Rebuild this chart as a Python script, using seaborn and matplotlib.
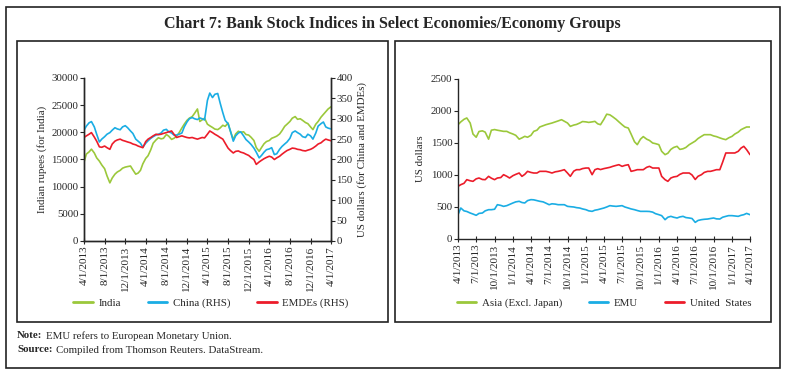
import pandas as pd
import seaborn as sns
import matplotlib.pyplot as plt
import matplotlib.dates as mdates
from matplotlib.lines import Line2D
from matplotlib.patches import Rectangle

# semi-monthly readings, 4/1/2013 .. 4/1/2017
dates = pd.date_range('2013-04-01', periods=97, freq='SMS')

india = [14500, 16000, 16400, 16900, 16200, 15300, 14700, 14000, 13300, 12000,
         10700, 11600, 12300, 12700, 13000, 13400, 13600, 13700, 13800, 13100,
         12300, 12500, 13000, 14200, 15200, 15700, 16800, 18000, 18600, 19000,
         18800, 18900, 19600, 19300, 18700, 18900, 19300, 19900, 20800, 21500,
         22200, 22600, 22900, 23500, 24300, 22000, 22300, 22600, 21500, 21200,
         20900, 20600, 20500, 20800, 21300, 21100, 21700, 20200, 18700, 19700,
         20200, 20000, 20100, 19600, 19500, 19100, 18500, 17200, 16500, 17200,
         17900, 18300, 18500, 18900, 19100, 19300, 19700, 20300, 21100, 21500,
         22000, 22600, 22900, 22400, 22500, 22200, 21800, 21600, 21000, 20500,
         21500, 22000, 22800, 23300, 23800, 24300, 24700]
china = [272, 282, 290, 293, 280, 262, 243, 250, 256, 262,
         266, 272, 278, 275, 273, 280, 283, 278, 270, 264,
         250, 245, 240, 230, 240, 246, 252, 256, 260, 262,
         265, 272, 274, 268, 265, 260, 260, 262, 265, 280,
         292, 300, 303, 300, 298, 302, 300, 297, 345, 363,
         352, 360, 362, 339, 315, 296, 288, 270, 245, 258,
         265, 268, 258, 249, 243, 237, 228, 218, 204, 210,
         218, 224, 226, 229, 212, 214, 225, 232, 238, 243,
         252, 266, 270, 266, 262, 256, 254, 262, 258, 250,
         265, 282, 288, 292, 280, 277, 275]
emdes = [254, 258, 262, 266, 255, 245, 231, 230, 233, 229,
         225, 238, 245, 248, 250, 247, 245, 243, 241, 238,
         236, 233, 231, 229, 244, 250, 254, 258, 262, 261,
         262, 264, 266, 268, 270, 262, 254, 256, 258, 256,
         254, 253, 254, 252, 250, 252, 254, 253, 262, 270,
         266, 262, 258, 254, 250, 240, 228, 222, 216, 220,
         221, 218, 216, 213, 210, 205, 200, 188, 194, 198,
         202, 205, 208, 206, 200, 204, 208, 213, 218, 222,
         225, 228, 227, 225, 224, 222, 221, 223, 225, 228,
         233, 238, 241, 246, 250, 248, 246]

asia = [1786, 1830, 1870, 1891, 1812, 1640, 1590, 1680, 1690, 1670,
        1560, 1700, 1710, 1700, 1690, 1682, 1682, 1660, 1640, 1620,
        1560, 1580, 1604, 1590, 1620, 1682, 1700, 1750, 1770, 1786,
        1800, 1812, 1830, 1845, 1864, 1840, 1812, 1760, 1780, 1790,
        1812, 1835, 1830, 1822, 1830, 1838, 1800, 1786, 1870, 1950,
        1940, 1910, 1870, 1830, 1786, 1750, 1734, 1640, 1520, 1474,
        1560, 1600, 1560, 1540, 1500, 1490, 1474, 1370, 1318, 1340,
        1400, 1430, 1448, 1400, 1410, 1430, 1474, 1500, 1530, 1570,
        1604, 1630, 1630, 1630, 1610, 1600, 1580, 1565, 1552, 1580,
        1604, 1640, 1670, 1708, 1730, 1750, 1750]
emu = [380, 484, 440, 430, 406, 390, 370, 400, 406, 440,
       458, 458, 465, 536, 525, 510, 521, 540, 563, 580,
       589, 570, 563, 600, 615, 612, 600, 589, 580, 560,
       536, 550, 545, 536, 536, 536, 510, 505, 500, 490,
       484, 470, 458, 440, 432, 450, 458, 470, 484, 500,
       521, 515, 510, 515, 521, 500, 484, 470, 458, 445,
       432, 432, 432, 430, 420, 396, 380, 365, 302, 340,
       354, 340, 328, 345, 354, 335, 328, 320, 260, 290,
       302, 308, 312, 320, 328, 315, 312, 340, 354, 365,
       365, 360, 354, 370, 380, 400, 380]
us = [823, 849, 870, 927, 910, 901, 940, 953, 930, 927,
      979, 950, 927, 953, 960, 1005, 980, 953, 990, 1010,
      1031, 979, 1010, 1057, 1040, 1031, 1031, 1057, 1057, 1057,
      1045, 1031, 1050, 1057, 1070, 1083, 1030, 979, 1060, 1083,
      1083, 1100, 1109, 1109, 1005, 1083, 1099, 1085, 1100, 1109,
      1120, 1135, 1150, 1161, 1135, 1150, 1161, 1057, 1070, 1083,
      1083, 1083, 1120, 1135, 1109, 1109, 1109, 979, 927, 901,
      953, 970, 979, 1010, 1031, 1031, 1031, 1000, 930, 980,
      1005, 1040, 1057, 1057, 1070, 1083, 1083, 1200, 1344, 1344,
      1344, 1344, 1370, 1420, 1448, 1396, 1318]

left_ticks = pd.date_range('2013-04-01', '2017-04-01', freq='4MS')
right_ticks = pd.date_range('2013-04-01', '2017-04-01', freq='3MS')

GREEN, BLUE, RED = '#9BC83B', '#1AADE4', '#EC1C2A'

sns.set_style('ticks')
plt.rcParams['font.family'] = ['Liberation Serif', 'DejaVu Serif']
plt.rcParams['axes.linewidth'] = 1.0

fig = plt.figure(figsize=(7.85, 3.73), dpi=100)
W, H = 785, 373

# frames
fig.patches.append(Rectangle((6/W, 1 - 368/H), 774/W, 361/H, transform=fig.transFigure,
                             fill=False, edgecolor='#222222', linewidth=1.2))
fig.patches.append(Rectangle((17/W, 1 - 322/H), 371/W, 281/H, transform=fig.transFigure,
                             fill=False, edgecolor='#222222', linewidth=1.2))
fig.patches.append(Rectangle((395/W, 1 - 322/H), 376/W, 281/H, transform=fig.transFigure,
                             fill=False, edgecolor='#222222', linewidth=1.2))

fig.text(0.5, 1 - 24/H, 'Chart 7: Bank Stock Indices in Select Economies/Economy Groups',
         ha='center', va='center', fontsize=11.5, fontweight='bold')


def date_fmt(x, pos=None):
    d = mdates.num2date(x)
    return f'{d.month}/{d.day}/{d.year}'


def style_x(ax, ticks):
    ax.set_xlim(dates[0], dates[-1])
    ax.set_xticks(ticks)
    ax.xaxis.set_major_formatter(plt.FuncFormatter(date_fmt))
    ax.tick_params(axis='x', rotation=90, labelsize=8, direction='inout', length=5, width=0.8, pad=1)
    ax.set_xlabel('')


# left panel
ax1 = fig.add_axes([84/W, 1 - 241/H, 247/W, 163/H])
ax2 = ax1.twinx()
df_l = pd.DataFrame({'date': dates, 'India': india, 'China (RHS)': china, 'EMDEs (RHS)': emdes})
sns.lineplot(data=df_l, x='date', y='India', ax=ax1, color=GREEN, linewidth=1.2)
sns.lineplot(data=df_l, x='date', y='China (RHS)', ax=ax2, color=BLUE, linewidth=1.2)
sns.lineplot(data=df_l, x='date', y='EMDEs (RHS)', ax=ax2, color=RED, linewidth=1.2)
ax1.set_ylim(0, 30000)
ax1.set_yticks(range(0, 30001, 5000))
ax2.set_ylim(0, 400)
ax2.set_yticks(range(0, 401, 50))
style_x(ax1, left_ticks)
for a in (ax1, ax2):
    a.spines['top'].set_visible(False)
    a.tick_params(axis='y', labelsize=7.8, length=3, width=0.8, pad=1)
ax1.set_ylabel('Indian rupees (for India)', fontsize=7.8, labelpad=3)
ax2.set_ylabel('US dollars (for China and EMDEs)', fontsize=7.8, labelpad=3)

# right panel
ax3 = fig.add_axes([458/W, 1 - 239/H, 292/W, 160/H])
df_r = pd.DataFrame({'date': dates, 'Asia (Excl. Japan)': asia, 'EMU': emu, 'United  States': us})
sns.lineplot(data=df_r, x='date', y='Asia (Excl. Japan)', ax=ax3, color=GREEN, linewidth=1.2)
sns.lineplot(data=df_r, x='date', y='EMU', ax=ax3, color=BLUE, linewidth=1.2)
sns.lineplot(data=df_r, x='date', y='United  States', ax=ax3, color=RED, linewidth=1.2)
ax3.set_ylim(0, 2500)
ax3.set_yticks(range(0, 2501, 500))
style_x(ax3, right_ticks)
ax3.spines['top'].set_visible(False)
ax3.spines['right'].set_visible(False)
ax3.tick_params(axis='y', labelsize=7.8, length=3, width=0.8, pad=1)
ax3.set_ylabel('US dollars', fontsize=7.8, labelpad=4)


# legends
def handles(colors, labels):
    return [Line2D([], [], color=c, linewidth=2, label=l) for c, l in zip(colors, labels)]


leg_kw = dict(loc='center', ncol=3, frameon=False, fontsize=7.8,
              handlelength=1.8, columnspacing=2.5, handletextpad=0.5)
fig.legend(handles=handles([GREEN, BLUE, RED], ['India', 'China (RHS)', 'EMDEs (RHS)']),
           bbox_to_anchor=(211/W, 1 - 303/H), **leg_kw)
fig.legend(handles=handles([GREEN, BLUE, RED], ['Asia (Excl. Japan)', 'EMU', 'United  States']),
           bbox_to_anchor=(604/W, 1 - 303/H), **leg_kw)

# notes
fig.text(17/W, 1 - 336/H, 'Note:', fontsize=7.8, va='center', fontweight='bold')
fig.text(46/W, 1 - 336/H, 'EMU refers to European Monetary Union.', fontsize=7.8, va='center')
fig.text(17/W, 1 - 350/H, 'Source:', fontsize=7.8, va='center', fontweight='bold')
fig.text(56/W, 1 - 350/H, 'Compiled from Thomson Reuters. DataStream.', fontsize=7.8, va='center')

plt.savefig('out.png', dpi=100)
